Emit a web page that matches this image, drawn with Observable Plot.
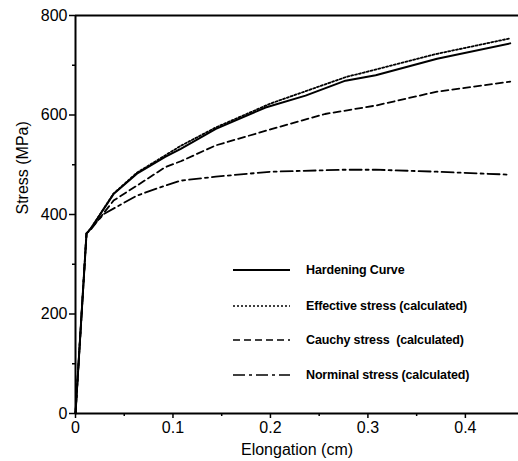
<!DOCTYPE html>
<html><head><meta charset="utf-8">
<script src="https://cdn.jsdelivr.net/npm/d3@7"></script>
<script src="https://cdn.jsdelivr.net/npm/@observablehq/plot@0.6"></script>
<style>
body{margin:0;background:#fff}
#wrap{position:relative;width:518px;height:461px;overflow:hidden}
.lg{position:absolute;display:flex;align-items:center;font-family:"Liberation Sans",Arial,sans-serif;font-size:12.5px;font-weight:bold;letter-spacing:-0.15px;color:#000;white-space:pre}
.lg svg{margin-right:16px}
</style></head><body><div id="wrap"></div>
<script>
const seriesNames = ["Hardening Curve", "Effective stress (calculated)", "Cauchy stress  (calculated)", "Norminal stress (calculated)"];
const dashes = ["none", "2,2", "7,4", "12,4,3,4"];

const hardX = [0, 0.0113, 0.0154, 0.039, 0.063, 0.092, 0.108, 0.144, 0.195, 0.236, 0.277, 0.308, 0.371, 0.446];
const hardY = [0, 362, 371, 441, 482, 516, 532, 572, 615, 639, 669, 680, 713, 744];

const effX = [0, 0.0113, 0.0154, 0.039, 0.063, 0.108, 0.144, 0.2, 0.277, 0.305, 0.371, 0.446];
const effY = [0, 362, 371, 442, 484, 538, 575, 623, 676, 690, 723, 754];

const cauX = [0, 0.0113, 0.0154, 0.039, 0.063, 0.092, 0.108, 0.144, 0.2, 0.256, 0.308, 0.371, 0.446];
const cauY = [0, 362, 369, 428, 458, 495, 507, 539, 571, 602, 619, 647, 667];

const nomX = [0, 0.0113, 0.029, 0.063, 0.092, 0.108, 0.144, 0.2, 0.275, 0.308, 0.371, 0.446];
const nomY = [0, 362, 401, 438, 458, 468, 476, 486, 490, 490, 486, 480];

const xTicks = [0, 0.1, 0.2, 0.3, 0.4];
const xMinor = [0.05, 0.15, 0.25, 0.35];
const yTicks = [0, 200, 400, 600, 800];
const yMinor = [100, 300, 500, 700];

const allX = [hardX, effX, cauX, nomX];
const allY = [hardY, effY, cauY, nomY];
const rows = [];
allX.forEach((xs, i) => xs.forEach((x, j) => rows.push({series: seriesNames[i], i, x, y: allY[i][j]})));

const font = '"Liberation Sans", Arial, sans-serif';
const chart = Plot.plot({
  width: 518, height: 461,
  marginTop: 15, marginLeft: 75, marginRight: 0, marginBottom: 48,
  style: {fontFamily: font, fontSize: "16px", color: "#000", background: "#fff"},
  x: {domain: [0, 0.4545], label: null},
  y: {domain: [0, 800], label: null},
  marks: [
    Plot.axisY(yTicks, {tickSize: 6, tickPadding: 2, strokeWidth: 1.5, fontSize: 16, label: null}),
    Plot.axisY(yMinor, {tickSize: 3, tickFormat: () => "", strokeWidth: 1.5, label: null}),
    Plot.axisX(xTicks, {tickSize: 5, tickPadding: 3, strokeWidth: 1.5, fontSize: 16, label: null, tickFormat: d => d === 0 ? "0" : d.toFixed(1)}),
    Plot.axisX(xMinor, {tickSize: 3, tickFormat: () => "", strokeWidth: 1.5, label: null}),
    Plot.ruleX([0], {stroke: "#000", strokeWidth: 2}),
    Plot.ruleY([0], {stroke: "#000", strokeWidth: 2}),
    Plot.ruleY([800], {stroke: "#000", strokeWidth: 2}),
    ...seriesNames.map((s, i) => Plot.line(rows.filter(r => r.i === i), {
      x: "x", y: "y", stroke: "#000", strokeWidth: i === 0 ? 2 : 1.8,
      strokeDasharray: dashes[i] === "none" ? null : dashes[i], curve: "linear"
    })),
    Plot.text(["Stress (MPa)"], {frameAnchor: "left", dx: -53, rotate: -90, fontSize: 16, fill: "#000"}),
    Plot.text(["Elongation (cm)"], {frameAnchor: "bottom", dy: 41, fontSize: 16, fill: "#000"})
  ]
});
const wrap = document.getElementById("wrap");
wrap.appendChild(chart);

const legendTop = [270, 306, 340, 375];
seriesNames.forEach((s, i) => {
  const row = document.createElement("div");
  row.className = "lg";
  row.style.left = "233px";
  row.style.top = (legendTop[i] - 8) + "px";
  const svg = d3.create("svg").attr("width", 57).attr("height", 16);
  svg.append("line").attr("x1", 0).attr("x2", 57).attr("y1", 8).attr("y2", 8)
    .attr("stroke", "#000").attr("stroke-width", i === 0 ? 2 : 1.6)
    .attr("stroke-dasharray", dashes[i] === "none" ? null : dashes[i]);
  row.appendChild(svg.node());
  const t = document.createElement("span");
  t.textContent = s;
  row.appendChild(t);
  wrap.appendChild(row);
});
</script>
</body></html>
